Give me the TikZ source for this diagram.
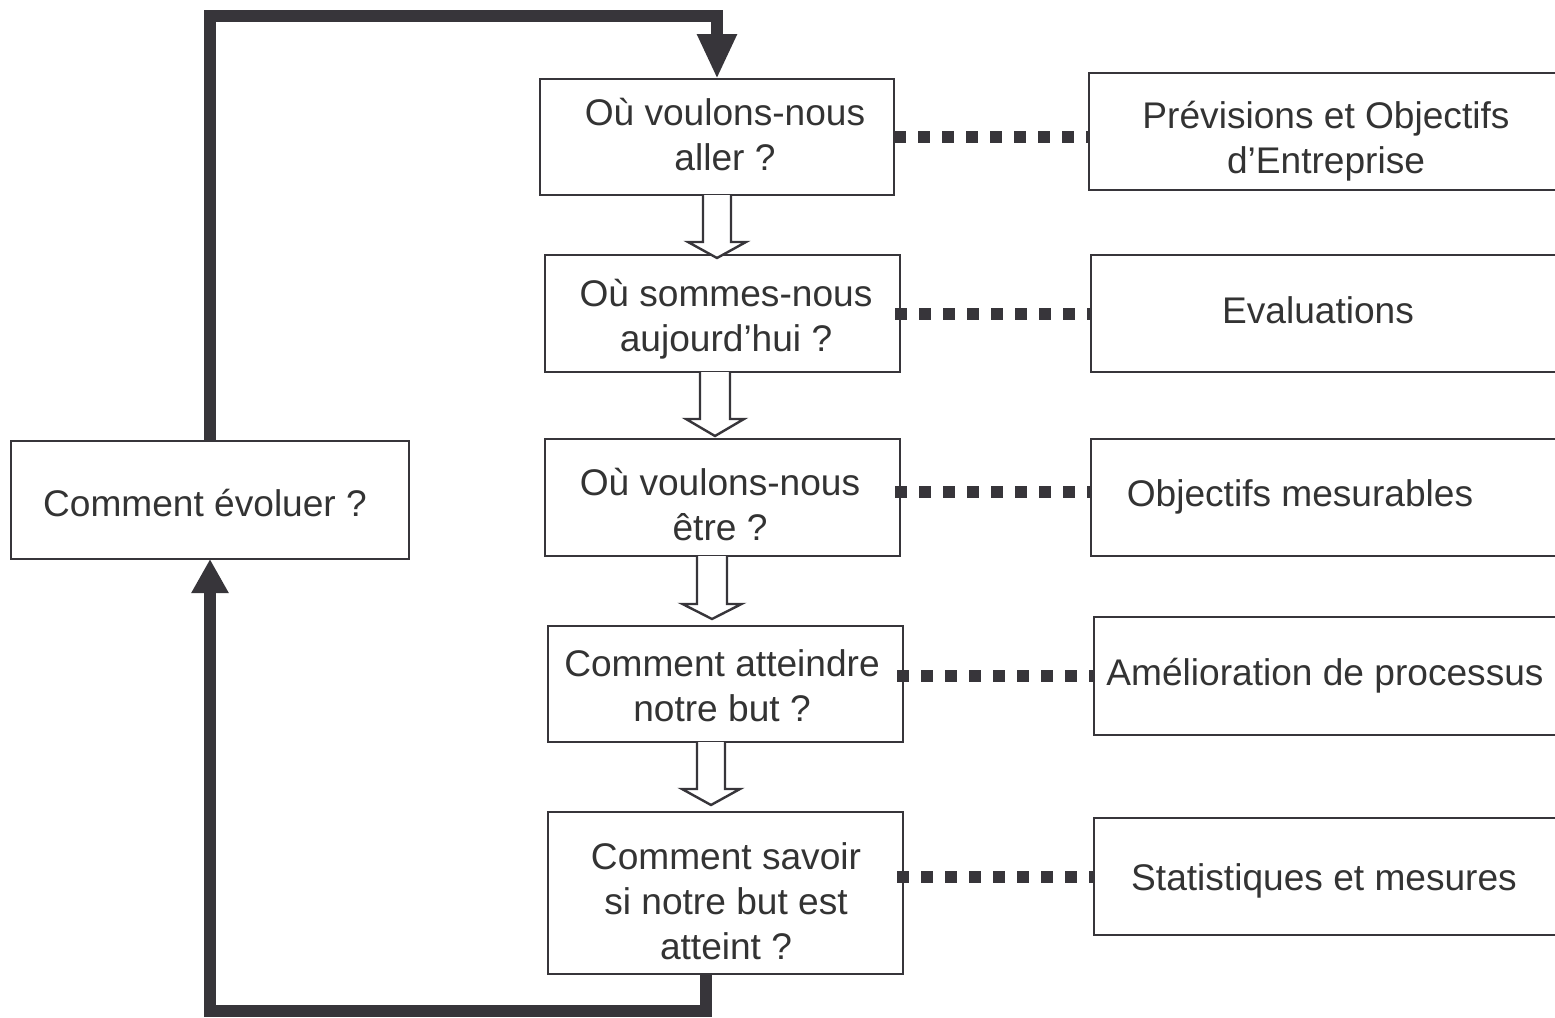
\documentclass[tikz,border=0pt]{standalone}
\usepackage{fontspec}
\setmainfont{Liberation Sans}
\usetikzlibrary{arrows.meta,calc}

\definecolor{ink}{RGB}{55,53,58}
\definecolor{inktext}{RGB}{51,51,51}

% hollow block arrow pointing down: #1 x of axis, #2 upper node, #3 lower node,
% #4 half shaft width, #5 half head width, #6 head length, #7 tip offset
\newcommand{\hollowdown}[7]{%
  \draw[hollow]
    ($(#2.south -| #1,0)+(-#4,0)$) --
    ($(#3.north -| #1,0)+(-#4,#7-#6)$) --
    ($(#3.north -| #1,0)+(-#5,#7-#6)$) --
    ($(#3.north -| #1,0)+(0,#7)$) --
    ($(#3.north -| #1,0)+(#5,#7-#6)$) --
    ($(#3.north -| #1,0)+(#4,#7-#6)$) --
    ($(#2.south -| #1,0)+(#4,0)$);}

\begin{document}
\begin{tikzpicture}[x=0.5pt,y=-0.5pt,
  box/.style={draw=ink,line width=1pt,fill=none,rectangle,inner sep=0pt,outer sep=0pt},
  txt/.style={font=\fontsize{18.55pt}{22.5pt}\selectfont,text=inktext,align=center,inner sep=0pt},
  dots/.style={draw=ink,line width=6pt,dash pattern=on 6pt off 6pt},
  hollow/.style={draw=ink,line width=1.2pt,fill=white,line join=miter},
  loopline/.style={draw=ink,line width=6pt,line join=miter}]

\useasboundingbox (0,0) rectangle (1555,1018);
\clip (0,0) rectangle (1555,1018);

% question boxes
\node[box,minimum width=177pt,minimum height=58pt]   (B1) at (717,137)   {};
\node[box,minimum width=177.5pt,minimum height=58.5pt] (B2) at (722.5,313.5) {};
\node[box,minimum width=177.5pt,minimum height=58.5pt] (B3) at (722.5,497.5) {};
\node[box,minimum width=177.5pt,minimum height=58pt]   (B4) at (725.5,684)   {};
\node[box,minimum width=177.5pt,minimum height=81pt]   (B5) at (725.5,893)   {};
\node[box,minimum width=199pt,minimum height=59pt]     (L)  at (210,500)     {};

% answer boxes, running off the right edge
\node[box,minimum width=237pt,minimum height=58.5pt]   (R1) at (1326,131.5)  {};
\node[box,minimum width=236pt,minimum height=58.5pt]   (R2) at (1327,313.5)  {};
\node[box,minimum width=236pt,minimum height=58.5pt]   (R3) at (1327,497.5)  {};
\node[box,minimum width=234.5pt,minimum height=59pt]   (R4) at (1328.5,676)  {};
\node[box,minimum width=234.5pt,minimum height=58.5pt] (R5) at (1328.5,876.5) {};

% labels
\node[txt] (tB1) at (725,138.5) {\strut Où voulons-nous\\\strut aller ?};
\node[txt] (tB2) at (726,319.5) {\strut Où sommes-nous\\\strut aujourd’hui ?};
\node[txt] (tB3) at (720,509)   {\strut Où voulons-nous\\\strut être ?};
\node[txt] (tB4) at (722,689.5) {\strut Comment atteindre\\\strut notre but ?};
\node[txt] (tB5) at (726,905)   {\strut Comment savoir\\\strut si notre but est\\\strut atteint ?};
\node[txt] (tL)  at (205,507)   {\strut Comment évoluer ?};
\node[txt] (tR1) at (1326,141.5) {\strut Prévisions et Objectifs\\\strut d’Entreprise};
\node[txt] (tR2) at (1318,314)  {\strut Evaluations};
\node[txt] (tR3) at (1300,497)  {\strut Objectifs mesurables};
\node[txt] (tR4) at (1325,676)  {\strut Amélioration de processus};
\node[txt] (tR5) at (1324,881)  {\strut Statistiques et mesures};

% dotted links between questions and answers, all starting on one column
\coordinate (d2) at (895,313.5);
\coordinate (d3) at (895,492);
\coordinate (d4) at (897,676);
\coordinate (d5) at (897,876.5);
\draw[dots] (B1.east) -- (R1.west |- B1.east);
\draw[dots] (d2) -- (d2 -| R2.west);
\draw[dots] (d3) -- (d3 -| R3.west);
\draw[dots] (d4) -- (d4 -| R4.west);
\draw[dots] (d5) -- (d5 -| R5.west);

% hollow arrows down the question chain
\hollowdown{717}{B1}{B2}{14}{29}{16}{3}
\hollowdown{715}{B2}{B3}{15}{29}{17}{-3}
\hollowdown{712}{B3}{B4}{15}{29.5}{15}{-7}
\hollowdown{711}{B4}{B5}{14}{29}{16}{-7}

% feedback loop
\coordinate (drop) at ([xshift=-10pt]B5.south);
\draw[loopline,-{Triangle[length=17pt,width=17.5pt]}]
  (drop) -- (drop |- 0,1011) -| (L.south);
\draw[loopline,-{Triangle[length=22.5pt,width=18.5pt]}]
  (L.north) -- (L.north |- 0,16) -| (B1.north);
\end{tikzpicture}
\end{document}
